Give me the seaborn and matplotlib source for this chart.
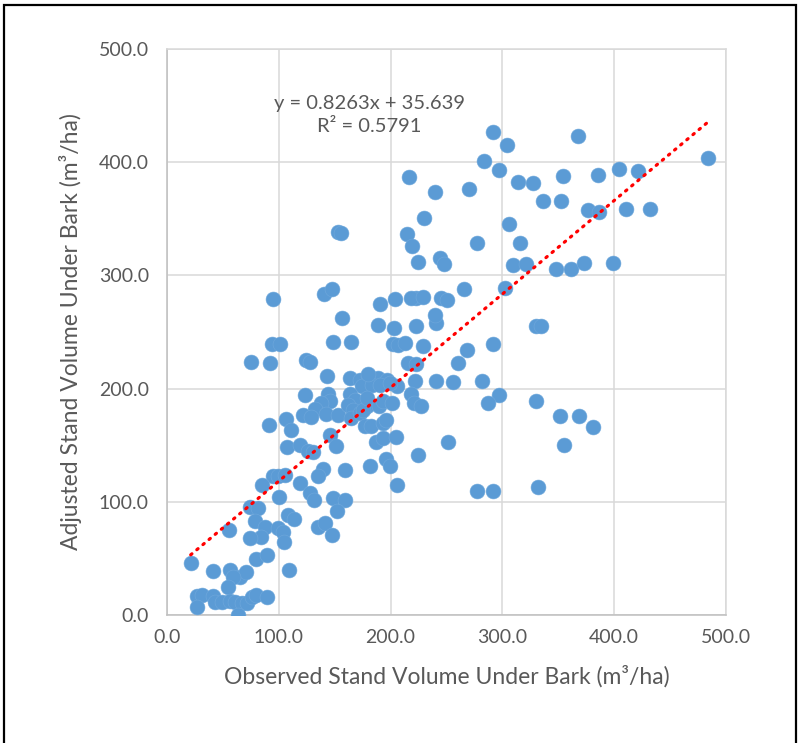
import numpy as np
import pandas as pd
import matplotlib
matplotlib.use("Agg")
import matplotlib.pyplot as plt
from matplotlib.patches import Rectangle
import seaborn as sns

# Observed (x) and adjusted (y) stand volume under bark (m3/ha)
observed = [
    93.5, 101.5, 74.7, 92, 148.5, 124.7, 127.7, 143.5, 123.8, 144, 145.5, 138, 132, 121.7, 129, 142, 153,
    106, 111, 91, 145.5, 151.5, 107.7, 118.8, 126, 130.6, 159, 139.6, 135, 118.8, 127.7, 131.2, 148.5, 159,
    152, 100.3, 95, 99.4, 105.4, 85.4, 74, 81.5, 108.3, 113.7, 55.7, 78.6, 87.5, 84.5, 74, 99.4, 103.8,
    104.5, 135, 141.7, 148, 80, 89, 109.2, 21.2, 41.4, 56, 65.2, 70.5, 58.7, 54.8, 26.5, 31, 41.4, 42.9,
    48.8, 56.3, 60.7, 66.7, 71.2, 75.6, 80, 89, 27, 63.7,
    163.7, 172.6, 180, 189, 196.5, 205.4, 174, 183, 190.5, 199.4, 178.6,
    188.7, 202.7, 222.3, 240.2, 165, 202, 206.5, 212.5, 228.9, 268.5, 292, 260, 215.5, 222.3, 221.4, 240.2,
    255.7, 281.5, 296.7, 286.9, 179.8, 163.4, 168, 162, 166.4, 165, 172.3, 175.3, 179.2, 190, 193, 201.5,
    218.5, 220.5, 227.4, 176.8, 182.8, 193.2, 196.2, 186.6, 193.1, 205, 251, 224.4, 195.5, 199.7, 181.3,
    205.7, 277, 292,
    330, 334.5, 330, 351.5, 368.8, 380.7, 354.7, 332,
    153, 156, 95, 140.5, 148, 156.9,
    292, 304.2, 283.3, 296.7, 313.7, 327.7, 216.4, 239.3, 270.5, 229.7, 214.9, 219, 224.4, 244.6, 248.2,
    277, 306.3, 316, 309.2, 321.2, 302.7, 266, 245.3, 250.3, 223, 218.5, 228.9, 203.6, 190.8, 239.3,
    367.3, 484, 403.9, 421.4, 353.8, 385.7, 336, 352.4, 376.2, 386.6, 410.4, 432.1, 348, 361.3, 373.2, 399,
]
adjusted = [
    239.6, 239.6, 223.3, 222.4, 241.6, 225.7, 223.3, 210.9, 194.7, 195.6, 188.8, 187.3, 182, 177, 175, 178, 176.4,
    173.5, 163.7, 168, 159, 149.6, 148, 150.4, 144.5, 143.6, 127.7, 129, 122.4, 117, 108.2, 101.8, 103.3, 101.8,
    92.3, 104.2, 122.4, 122.4, 123.9, 115, 95.8, 94.4, 88.5, 84.7, 75.2, 82.6, 78.1, 69.3, 67.9, 76.7, 73.7,
    64.9, 78, 81, 70.8, 49.3, 53.1, 39.8, 46.3, 38.9, 39.8, 33.9, 37.8, 33.9, 25, 16.8, 17.7, 16.8, 11.8,
    11.8, 12.4, 11.8, 10.9, 10.9, 16.2, 17.7, 16.2, 6.8, 0,
    209.5, 208, 210.9, 209.5, 208, 202, 202, 203.5, 203.5, 205, 184.3,
    256.6, 253.7, 255.1, 258.1, 241, 239.8, 238.9, 240.4, 237.4, 234.5, 239.8, 222.7, 222.7, 221.8, 206.5, 206.5,
    205.6, 206.5, 194.7, 187.3, 213.3, 195.6, 190.3, 185.8, 181.4, 174, 178.4, 181.4, 191.8, 184.3, 188.8, 187.3,
    195.6, 187.3, 185, 166.6, 166.6, 169.6, 172, 152.5, 156.4, 157.3, 152.8, 141.6, 137.8, 131.3, 131.3,
    115, 109.1, 109.1,
    255.1, 255.1, 189.4, 175.5, 175.5, 166, 149.8, 113.5,
    338.3, 337.2, 279.4, 283.2, 287.6, 262.6,
    426.3, 415.6, 400.9, 393.2, 382.6, 381.4, 387, 374, 376, 350.4, 336.9, 325.9, 312.1, 315.7, 310.4,
    328.3, 345.1, 328.3, 308.8, 309.7, 289.1, 287.6, 279.6, 278.1, 280.3, 280.3, 281.2, 279.4, 274.3, 264.6,
    423.3, 403.3, 394.4, 392.3, 387.9, 388.5, 365.5, 365.5, 357.8, 356, 359, 359, 305.9, 305.9, 311.2, 310.6,
]

slope = 0.8263
intercept = 35.639
r_squared = 0.5791

axis_ticks = [0, 100, 200, 300, 400, 500]
x_label = "Observed Stand Volume Under Bark (m³/ha)"
y_label = "Adjusted Stand Volume Under Bark (m³/ha)"

df = pd.DataFrame({"observed": observed, "adjusted": adjusted})

sns.set_theme(style="white")
plt.rcParams["font.family"] = ["Lato", "DejaVu Sans"]

fig = plt.figure(figsize=(7.99, 7.43), dpi=100)
ax = fig.add_axes([167 / 799, 1 - 615 / 743, (726 - 167) / 799, (615 - 49) / 743])

grid_c = "#D9D9D9"
text_c = "#595959"

ax.set_xlim(0, 500)
ax.set_ylim(0, 500)
ax.set_xticks(axis_ticks)
ax.set_yticks(axis_ticks)
ax.set_xticklabels([f"{t:.1f}" for t in axis_ticks])
ax.set_yticklabels([f"{t:.1f}" for t in axis_ticks])
ax.grid(True, color=grid_c, linewidth=1.1, zorder=0)
ax.set_axisbelow(True)
for side, sp in ax.spines.items():
    sp.set_color("#BFBFBF" if side in ("left", "bottom") else grid_c)
    sp.set_linewidth(1.1)
ax.tick_params(axis="both", length=0, labelsize=14, colors=text_c)
ax.tick_params(axis="x", pad=10)
ax.tick_params(axis="y", pad=13)

sns.scatterplot(data=df, x="observed", y="adjusted", ax=ax, s=115,
                color="#5B9BD5", edgecolor="#6FA8DC", linewidth=0.4, zorder=3)

xs = np.array([min(observed), max(observed)])
ax.plot(xs, slope * xs + intercept, color="#FF0000", linewidth=2.3,
        linestyle=(0, (0.5, 2.0)), dash_capstyle="round", zorder=4)

ax.text(0.362, 0.884, f"y = {slope}x + {intercept}\nR² = {r_squared}",
        transform=ax.transAxes, ha="center", va="center", fontsize=14.5,
        color=text_c, linespacing=1.45)

ax.set_xlabel(x_label, fontsize=16.5, color=text_c, labelpad=14)
ax.set_ylabel(y_label, fontsize=16.5, color=text_c, labelpad=12)

fig.patches.append(Rectangle((4 / 799, -0.05), (796 - 4) / 799, 1.05 - 5 / 743,
                             transform=fig.transFigure, fill=False,
                             edgecolor="black", linewidth=1.6, clip_on=False))

fig.savefig("out.png", dpi=100)
